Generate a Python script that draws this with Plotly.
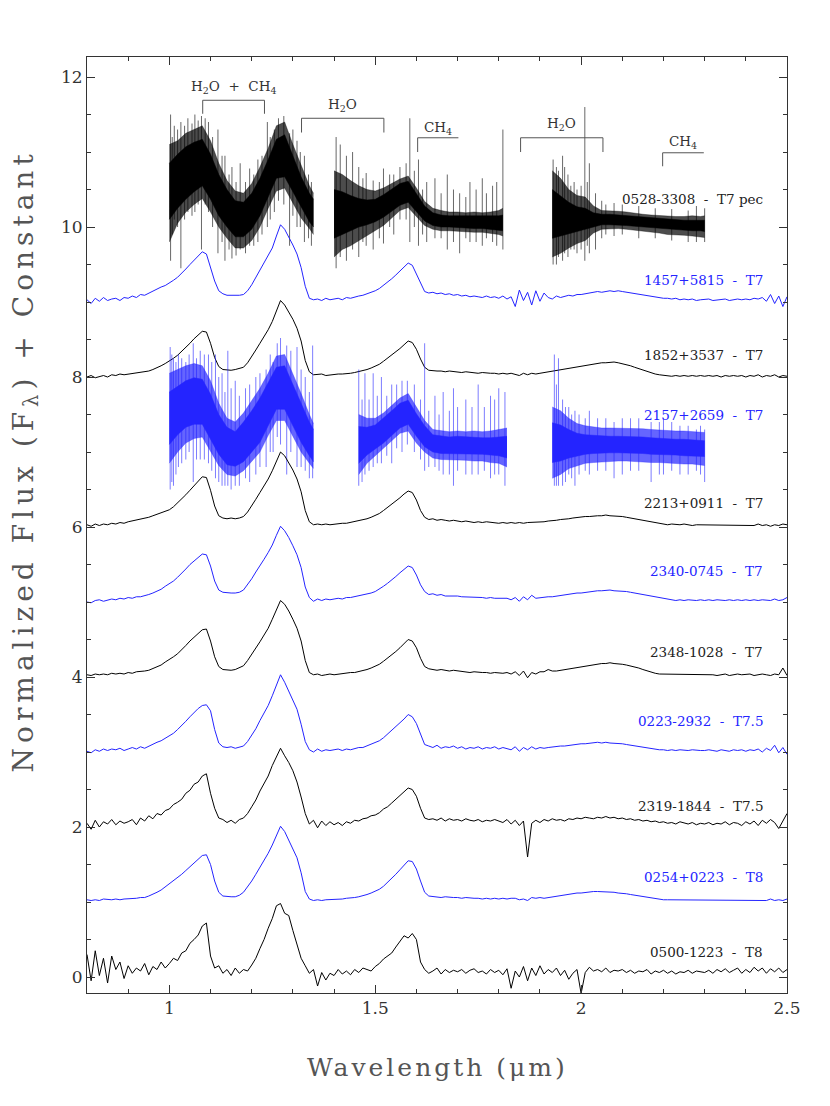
import plotly.graph_objects as go

# ---------------- data ----------------
WAVE = [0.80,0.81,0.82,0.83,0.84,0.85,0.86,0.87,0.88,0.89,
        0.90,0.91,0.92,0.93,0.94,0.95,0.96,0.97,0.98,0.99,
        1.00,1.01,1.02,1.03,1.04,1.05,1.06,1.07,1.08,1.09,
        1.10,1.11,1.12,1.13,1.14,1.15,1.16,1.17,1.18,1.19,
        1.20,1.21,1.22,1.23,1.24,1.25,1.26,1.27,1.28,1.29,
        1.30,1.31,1.32,1.33,1.34,1.35,1.36,1.37,1.38,1.39,
        1.40,1.41,1.42,1.43,1.44,1.45,1.46,1.47,1.48,1.49,
        1.50,1.51,1.52,1.53,1.54,1.55,1.56,1.57,1.58,1.59,
        1.60,1.61,1.62,1.63,1.64,1.65,1.66,1.67,1.68,1.69,
        1.70,1.71,1.72,1.73,1.74,1.75,1.76,1.77,1.78,1.79,
        1.80,1.81,1.82,1.83,1.84,1.85,1.86,1.87,1.88,1.89,
        1.90,1.91,1.92,1.93,1.94,1.95,1.96,1.97,1.98,1.99,
        2.00,2.01,2.02,2.03,2.04,2.05,2.06,2.07,2.08,2.09,
        2.10,2.11,2.12,2.13,2.14,2.15,2.16,2.17,2.18,2.19,
        2.20,2.21,2.22,2.23,2.24,2.25,2.26,2.27,2.28,2.29,
        2.30,2.31,2.32,2.33,2.34,2.35,2.36,2.37,2.38,2.39,
        2.40,2.41,2.42,2.43,2.44,2.45,2.46,2.47,2.48,2.49,
        2.50]

FLUX_1457 = [0.03,-0.02,0.05,0.01,0.06,0.02,0.04,0.05,0.02,0.06,
             0.05,0.08,0.06,0.10,0.09,0.12,0.14,0.17,0.20,0.22,
             0.25,0.29,0.33,0.38,0.44,0.50,0.56,0.61,0.67,0.64,
             0.47,0.28,0.15,0.11,0.09,0.09,0.08,0.09,0.10,0.15,
             0.23,0.33,0.42,0.51,0.61,0.72,0.88,1.03,0.97,0.87,
             0.76,0.64,0.46,0.21,0.05,0.03,0.04,0.02,0.05,0.03,
             0.04,0.05,0.03,0.06,0.05,0.07,0.08,0.09,0.11,0.12,
             0.15,0.18,0.22,0.27,0.31,0.36,0.41,0.47,0.52,0.49,
             0.38,0.25,0.14,0.12,0.13,0.11,0.12,0.10,0.11,0.09,
             0.10,0.08,0.09,0.07,0.08,0.07,0.06,0.08,0.06,0.07,
             0.05,0.08,0.04,0.07,-0.06,0.16,0.02,0.13,-0.04,0.15,
             0.01,0.12,0.06,0.04,0.08,0.06,0.07,0.09,0.08,0.10,
             0.10,0.11,0.12,0.13,0.14,0.13,0.14,0.15,0.14,0.15,
             0.14,0.13,0.13,0.12,0.11,0.10,0.09,0.08,0.07,0.06,
             0.05,0.05,0.04,0.05,0.03,0.04,0.03,0.04,0.02,0.03,
             0.03,0.04,0.02,0.03,0.03,0.04,0.02,0.03,0.04,0.03,
             0.04,0.03,0.05,0.04,0.06,0.01,0.10,-0.02,0.08,-0.06,
             0.07]

FLUX_1852 = [0.00,0.02,-0.01,0.01,0.02,0.00,0.03,0.02,0.04,0.03,
             0.04,0.05,0.05,0.06,0.07,0.08,0.10,0.12,0.15,0.18,
             0.21,0.25,0.29,0.34,0.39,0.45,0.51,0.56,0.61,0.60,
             0.45,0.26,0.14,0.10,0.09,0.09,0.10,0.11,0.13,0.19,
             0.27,0.36,0.45,0.54,0.63,0.74,0.88,1.02,0.96,0.87,
             0.77,0.65,0.48,0.22,0.07,0.03,0.03,0.04,0.02,0.03,
             0.03,0.04,0.04,0.05,0.05,0.06,0.07,0.08,0.10,0.12,
             0.14,0.17,0.21,0.25,0.29,0.33,0.38,0.43,0.48,0.46,
             0.37,0.24,0.13,0.09,0.08,0.08,0.08,0.07,0.08,0.07,
             0.07,0.06,0.07,0.06,0.06,0.05,0.06,0.05,0.05,0.05,
             0.04,0.05,0.04,0.05,0.04,0.02,0.05,0.03,0.05,0.04,
             0.05,0.06,0.06,0.07,0.08,0.09,0.10,0.11,0.12,0.13,
             0.14,0.15,0.16,0.17,0.18,0.19,0.19,0.20,0.20,0.19,
             0.18,0.17,0.15,0.13,0.11,0.09,0.07,0.05,0.04,0.03,
             0.02,0.02,0.01,0.02,0.01,0.02,0.01,0.02,0.01,0.02,
             0.01,0.02,0.01,0.02,0.00,0.02,0.01,0.02,0.01,0.02,
             0.00,0.02,0.01,0.03,0.00,0.02,0.01,0.03,0.00,0.02,
             0.01]

FLUX_2213 = [0.03,0.01,0.04,0.02,0.04,0.03,0.05,0.04,0.06,0.05,
             0.07,0.08,0.09,0.10,0.11,0.13,0.15,0.17,0.19,0.21,
             0.23,0.27,0.32,0.37,0.43,0.49,0.55,0.60,0.67,0.66,
             0.49,0.28,0.15,0.12,0.11,0.12,0.11,0.12,0.14,0.20,
             0.28,0.37,0.46,0.55,0.64,0.75,0.88,1.00,0.95,0.86,
             0.76,0.64,0.47,0.22,0.07,0.03,0.04,0.03,0.04,0.03,
             0.04,0.04,0.05,0.05,0.06,0.07,0.08,0.09,0.11,0.13,
             0.15,0.18,0.22,0.26,0.30,0.34,0.39,0.44,0.48,0.46,
             0.36,0.22,0.13,0.10,0.11,0.09,0.10,0.09,0.08,0.09,
             0.08,0.07,0.08,0.07,0.06,0.07,0.06,0.07,0.06,0.06,
             0.05,0.06,0.05,0.06,0.05,0.06,0.05,0.06,0.06,0.06,
             0.07,0.07,0.08,0.08,0.09,0.10,0.10,0.11,0.12,0.13,
             0.13,0.14,0.14,0.15,0.15,0.15,0.16,0.15,0.15,0.14,
             0.14,0.13,0.12,0.11,0.10,0.09,0.07,0.06,0.05,0.04,
             0.04,0.03,0.04,0.03,0.03,0.04,0.03,0.02,0.03,0.03,
             0.03,0.02,0.03,0.03,0.02,0.03,0.02,0.03,0.02,0.03,
             0.02,0.03,0.02,0.04,0.02,0.03,0.01,0.03,0.02,0.04,
             0.03]

FLUX_2340 = [0.00,-0.01,0.02,0.03,0.01,0.03,0.04,0.03,0.05,0.04,
             0.06,0.05,0.07,0.07,0.08,0.10,0.12,0.14,0.17,0.21,
             0.24,0.28,0.33,0.38,0.44,0.50,0.55,0.59,0.64,0.63,
             0.48,0.28,0.16,0.13,0.12,0.12,0.12,0.13,0.16,0.23,
             0.31,0.40,0.48,0.57,0.66,0.76,0.89,1.01,0.95,0.86,
             0.75,0.63,0.46,0.20,0.06,0.01,0.04,0.02,0.04,0.03,
             0.04,0.05,0.04,0.06,0.06,0.07,0.08,0.09,0.10,0.12,
             0.14,0.17,0.21,0.25,0.29,0.34,0.39,0.44,0.48,0.46,
             0.36,0.23,0.14,0.10,0.11,0.09,0.10,0.08,0.08,0.09,
             0.08,0.07,0.07,0.06,0.07,0.06,0.06,0.05,0.06,0.05,
             0.05,0.04,0.05,0.03,0.06,0.01,0.07,0.03,0.09,0.05,
             0.06,0.06,0.07,0.07,0.08,0.08,0.09,0.10,0.11,0.12,
             0.12,0.13,0.14,0.14,0.15,0.15,0.16,0.16,0.15,0.15,
             0.14,0.14,0.13,0.12,0.11,0.10,0.09,0.07,0.06,0.05,
             0.04,0.03,0.03,0.02,0.03,0.02,0.03,0.02,0.02,0.03,
             0.02,0.03,0.02,0.03,0.02,0.02,0.03,0.02,0.03,0.02,
             0.03,0.02,0.03,0.02,0.03,0.03,0.02,0.04,0.02,0.03,
             0.06]

FLUX_2348 = [0.03,0.02,0.04,0.03,0.04,0.03,0.05,0.04,0.05,0.04,
             0.06,0.05,0.07,0.07,0.08,0.09,0.11,0.13,0.16,0.20,
             0.23,0.27,0.31,0.36,0.42,0.48,0.53,0.58,0.63,0.64,
             0.48,0.27,0.14,0.10,0.09,0.09,0.10,0.12,0.15,0.22,
             0.30,0.39,0.47,0.56,0.65,0.77,0.90,1.02,0.97,0.88,
             0.77,0.65,0.48,0.22,0.06,0.03,0.04,0.02,0.03,0.04,
             0.03,0.04,0.04,0.05,0.06,0.06,0.07,0.08,0.10,0.12,
             0.14,0.17,0.21,0.25,0.29,0.34,0.39,0.45,0.50,0.48,
             0.39,0.25,0.14,0.11,0.10,0.09,0.10,0.09,0.08,0.09,
             0.08,0.07,0.07,0.06,0.07,0.06,0.06,0.06,0.05,0.06,
             0.05,0.05,0.06,0.04,0.07,0.02,0.08,-0.01,0.06,0.04,
             0.07,0.07,0.10,0.08,0.08,0.09,0.10,0.11,0.12,0.13,
             0.14,0.15,0.16,0.17,0.17,0.18,0.18,0.19,0.18,0.18,
             0.17,0.16,0.15,0.13,0.12,0.10,0.08,0.07,0.05,0.04,
             0.04,0.03,0.04,0.03,0.03,0.04,0.03,0.03,0.04,0.03,
             0.03,0.04,0.03,0.02,0.03,0.04,0.02,0.03,0.04,0.03,
             0.03,0.04,0.02,0.03,0.04,0.03,0.02,0.04,0.03,0.12,
             0.02]

FLUX_0223 = [0.01,-0.01,0.03,0.01,0.04,0.02,0.04,0.03,0.05,0.02,
             0.04,0.06,0.04,0.07,0.05,0.08,0.11,0.13,0.15,0.18,
             0.21,0.25,0.30,0.35,0.41,0.47,0.53,0.58,0.62,0.63,
             0.55,0.30,0.12,0.07,0.06,0.07,0.05,0.06,0.08,0.14,
             0.22,0.31,0.42,0.52,0.62,0.75,0.89,1.03,0.93,0.81,
             0.69,0.57,0.37,0.14,0.03,0.00,0.04,0.01,0.03,0.02,
             0.03,0.04,0.02,0.04,0.03,0.05,0.06,0.06,0.08,0.10,
             0.12,0.15,0.19,0.24,0.28,0.33,0.38,0.44,0.50,0.47,
             0.38,0.24,0.10,0.08,0.06,0.09,0.05,0.07,0.06,0.08,
             0.05,0.07,0.04,0.06,0.05,0.07,0.04,0.06,0.05,0.07,
             0.04,0.06,0.05,0.03,0.07,0.01,0.06,0.03,0.07,0.04,
             0.06,0.05,0.06,0.07,0.07,0.08,0.08,0.09,0.10,0.10,
             0.11,0.11,0.12,0.12,0.13,0.12,0.13,0.12,0.12,0.11,
             0.11,0.10,0.09,0.08,0.07,0.06,0.05,0.05,0.04,0.03,
             0.03,0.02,0.03,0.02,0.03,0.02,0.02,0.03,0.02,0.02,
             0.02,0.03,0.02,0.01,0.03,0.02,0.01,0.03,0.02,0.03,
             0.01,0.03,0.02,0.04,0.00,0.05,0.02,0.09,-0.01,0.06,
             -0.03]

FLUX_2319 = [0.05,-0.03,0.09,0.00,0.07,0.04,0.10,0.03,0.08,0.05,
             0.07,0.10,0.03,0.12,0.08,0.15,0.11,0.18,0.16,0.22,
             0.24,0.30,0.33,0.37,0.45,0.49,0.57,0.60,0.68,0.71,
             0.45,0.25,0.12,0.10,0.06,0.09,0.05,0.10,0.12,0.18,
             0.27,0.36,0.48,0.58,0.68,0.82,0.93,1.05,0.95,0.86,
             0.75,0.60,0.40,0.18,0.04,0.09,-0.01,0.08,0.02,0.07,
             0.03,0.06,0.02,0.07,0.05,0.09,0.08,0.11,0.12,0.15,
             0.16,0.19,0.24,0.27,0.32,0.37,0.41,0.47,0.52,0.50,
             0.41,0.25,0.12,0.10,0.11,0.09,0.12,0.08,0.11,0.09,
             0.10,0.08,0.11,0.09,0.08,0.10,0.07,0.09,0.08,0.10,
             0.08,0.06,0.10,0.04,0.09,0.02,0.08,-0.40,0.05,0.09,
             0.06,0.10,0.08,0.11,0.09,0.10,0.08,0.11,0.10,0.12,
             0.11,0.13,0.12,0.11,0.13,0.12,0.14,0.12,0.13,0.11,
             0.12,0.10,0.11,0.09,0.10,0.08,0.09,0.07,0.08,0.06,
             0.07,0.05,0.06,0.04,0.07,0.05,0.04,0.06,0.03,0.05,
             0.04,0.06,0.03,0.05,0.04,0.07,0.03,0.06,0.05,0.02,
             0.07,0.04,0.08,0.02,0.09,0.05,0.10,0.06,-0.02,0.08,
             0.18]

FLUX_0254 = [0.03,0.02,0.03,0.02,0.04,0.03,0.03,0.04,0.03,0.04,
             0.04,0.05,0.05,0.06,0.06,0.08,0.10,0.13,0.16,0.20,
             0.24,0.28,0.32,0.37,0.42,0.47,0.52,0.56,0.62,0.63,
             0.50,0.28,0.13,0.08,0.07,0.07,0.07,0.09,0.13,0.20,
             0.28,0.37,0.46,0.55,0.65,0.76,0.89,1.01,0.94,0.83,
             0.72,0.59,0.39,0.14,0.04,0.02,0.03,0.02,0.03,0.03,
             0.03,0.04,0.04,0.05,0.05,0.06,0.07,0.08,0.10,0.12,
             0.14,0.17,0.21,0.26,0.31,0.37,0.43,0.49,0.55,0.54,
             0.44,0.28,0.13,0.08,0.07,0.07,0.06,0.07,0.06,0.06,
             0.06,0.05,0.06,0.05,0.05,0.05,0.04,0.05,0.04,0.05,
             0.04,0.05,0.04,0.05,0.05,0.03,0.04,0.02,0.06,0.05,
             0.06,0.05,0.06,0.07,0.07,0.08,0.09,0.10,0.11,0.12,
             0.12,0.13,0.13,0.14,0.14,0.14,0.14,0.13,0.13,0.12,
             0.12,0.11,0.10,0.09,0.08,0.07,0.06,0.05,0.04,0.03,
             0.03,0.03,0.03,0.02,0.03,0.03,0.02,0.03,0.03,0.03,
             0.03,0.02,0.03,0.03,0.02,0.03,0.03,0.02,0.03,0.03,
             0.02,0.03,0.03,0.02,0.03,0.02,0.04,0.02,0.03,0.02,
             0.04]

FLUX_0500 = [0.30,-0.05,0.35,0.02,0.25,-0.08,0.28,0.10,0.20,-0.02,
             0.15,0.05,0.12,0.08,0.18,0.03,0.14,0.10,0.20,0.12,
             0.18,0.25,0.22,0.32,0.35,0.45,0.50,0.56,0.68,0.72,
             0.28,0.12,0.15,0.05,0.10,0.02,0.12,0.05,0.10,0.08,
             0.16,0.25,0.38,0.50,0.65,0.78,0.95,0.98,0.85,0.82,
             0.62,0.45,0.25,0.15,0.05,0.10,-0.12,0.06,-0.04,0.05,
             0.02,0.10,0.04,0.08,0.03,0.10,0.06,0.12,0.10,0.08,
             0.14,0.18,0.24,0.28,0.32,0.40,0.48,0.55,0.52,0.58,
             0.50,0.20,0.10,0.05,0.08,0.12,0.04,0.10,0.06,0.09,
             0.07,0.10,0.05,0.09,0.11,0.06,0.08,0.04,0.10,0.06,
             0.09,0.03,0.11,-0.15,0.08,0.00,0.14,-0.05,0.12,0.02,
             0.15,0.04,0.10,0.06,0.12,0.02,0.09,-0.03,0.05,0.10,
             -0.22,0.06,0.13,0.08,0.10,0.07,0.12,0.06,0.09,0.08,
             0.10,0.06,0.09,0.05,0.08,0.07,0.10,0.04,0.08,0.06,
             0.09,0.05,0.08,0.04,0.07,0.06,0.09,0.05,0.08,0.07,
             0.06,0.09,0.05,0.10,0.07,0.11,0.06,0.09,0.12,0.05,
             0.10,0.06,0.13,0.08,0.12,0.05,0.11,0.07,0.12,0.06,
             0.10]

# Noisy spectra: outer envelope and dense core of the noise band, per segment
W_0528_S1 = [1.00,1.02,1.04,1.06,1.08,1.10,1.12,1.14,1.16,1.18,1.20,1.22,1.24,1.26,1.28,1.30,1.32,1.34,1.35]
LO_0528_S1 = [-0.20,0.05,0.20,0.30,0.38,0.20,0.00,-0.15,-0.28,-0.28,-0.18,0.00,0.25,0.48,0.52,0.32,0.12,-0.02,-0.10]
HI_0528_S1 = [1.10,1.15,1.25,1.30,1.35,1.15,0.85,0.62,0.48,0.45,0.58,0.80,1.05,1.35,1.40,1.10,0.82,0.55,0.45]
CLO_0528_S1 = [0.10,0.25,0.37,0.47,0.55,0.37,0.15,0.00,-0.13,-0.13,-0.03,0.15,0.40,0.65,0.67,0.47,0.25,0.07,0.00]
CHI_0528_S1 = [0.85,0.97,1.07,1.13,1.17,0.97,0.70,0.50,0.35,0.33,0.45,0.65,0.90,1.17,1.23,0.95,0.67,0.45,0.37]
W_0528_S2 = [1.40,1.42,1.44,1.46,1.48,1.50,1.52,1.54,1.56,1.58,1.60,1.62,1.64,1.66,1.68,1.70,1.72,1.74,1.76,1.78,1.80,1.81]
LO_0528_S2 = [-0.40,-0.30,-0.25,-0.18,-0.12,-0.05,0.02,0.12,0.22,0.26,0.14,0.02,-0.03,-0.05,-0.05,-0.06,-0.06,-0.07,-0.07,-0.08,-0.10,-0.12]
HI_0528_S2 = [0.75,0.70,0.62,0.55,0.50,0.48,0.52,0.58,0.64,0.68,0.52,0.34,0.25,0.22,0.20,0.20,0.19,0.20,0.19,0.20,0.22,0.25]
CLO_0528_S2 = [-0.15,-0.10,-0.05,0.00,0.03,0.07,0.13,0.21,0.29,0.33,0.21,0.08,0.02,0.00,0.00,-0.01,-0.01,-0.02,-0.02,-0.03,-0.04,-0.05]
CHI_0528_S2 = [0.50,0.47,0.42,0.38,0.36,0.37,0.43,0.50,0.58,0.61,0.45,0.28,0.19,0.16,0.15,0.15,0.14,0.14,0.14,0.14,0.15,0.16]
W_0528_S3 = [1.93,1.95,1.97,1.99,2.01,2.03,2.05,2.07,2.09,2.11,2.13,2.15,2.17,2.19,2.21,2.23,2.25,2.27,2.29,2.30]
LO_0528_S3 = [-0.40,-0.35,-0.28,-0.22,-0.18,-0.08,-0.03,-0.02,-0.02,-0.03,-0.04,-0.06,-0.07,-0.08,-0.10,-0.10,-0.11,-0.12,-0.13,-0.14]
HI_0528_S3 = [0.75,0.65,0.50,0.42,0.40,0.28,0.22,0.22,0.21,0.20,0.18,0.17,0.16,0.15,0.15,0.14,0.14,0.15,0.14,0.15]
CLO_0528_S3 = [-0.15,-0.12,-0.09,-0.05,-0.03,0.01,0.03,0.03,0.03,0.02,0.01,0.00,-0.01,-0.02,-0.03,-0.04,-0.04,-0.05,-0.05,-0.06]
CHI_0528_S3 = [0.50,0.42,0.33,0.27,0.25,0.19,0.17,0.17,0.16,0.15,0.14,0.13,0.12,0.11,0.10,0.10,0.09,0.09,0.09,0.09]

SPK_0528_W = [1.003,1.007,1.012,1.020,1.028,1.037,1.045,1.055,1.062,1.070,1.078,1.087,1.095,1.105,1.118,1.128,1.135,1.145,1.152,1.162,
              1.172,1.185,1.195,1.205,1.215,1.225,1.238,1.245,1.255,1.265,1.278,1.292,1.300,1.310,1.318,1.328,1.338,1.345,
              1.405,1.415,1.430,1.445,1.460,1.470,1.478,1.495,1.510,1.520,1.535,1.545,1.560,1.575,1.584,1.595,1.605,1.615,
              1.625,1.645,1.660,1.675,1.690,1.705,1.720,1.730,1.745,1.760,1.770,1.785,1.795,1.810,
              1.932,1.940,1.945,1.955,1.960,1.968,1.975,1.983,1.990,2.000,2.009,2.015,2.020,2.035,2.050,2.060,2.080,2.100,
              2.140,2.180,2.220,2.260,2.280,2.300]
SPK_0528_LO = [-0.45,-0.10,0.10,0.00,-0.55,0.10,0.20,0.15,0.20,0.30,-0.30,0.30,0.20,0.00,-0.35,-0.20,-0.45,-0.30,-0.42,-0.38,
               -0.30,-0.35,-0.25,-0.25,-0.20,-0.10,0.00,0.10,0.20,0.35,0.30,-0.25,0.15,0.00,0.00,-0.20,-0.15,-0.25,
               -0.55,-0.40,-0.45,-0.30,-0.40,-0.20,-0.25,-0.30,-0.15,-0.22,0.00,-0.10,0.10,0.10,-0.20,0.00,-0.25,-0.10,
               -0.20,-0.15,-0.15,-0.30,-0.20,-0.35,-0.15,-0.20,-0.20,-0.25,-0.15,-0.20,-0.25,-0.30,
               -0.50,-0.50,-0.40,-0.45,-0.35,-0.40,-0.30,-0.30,-0.35,-0.30,-0.45,-0.25,-0.35,-0.30,-0.15,-0.10,-0.12,-0.10,
               -0.15,-0.15,-0.18,-0.20,-0.20,-0.20]
SPK_0528_HI = [1.50,1.20,1.35,1.30,1.40,1.35,1.45,1.38,1.50,1.42,1.48,1.45,1.40,1.20,1.30,0.95,0.95,0.70,0.80,0.60,
               0.85,0.60,0.78,0.70,0.90,0.95,1.40,1.20,1.30,1.45,1.48,1.25,1.30,1.15,1.00,0.95,0.70,0.60,
               1.20,1.10,0.95,1.00,0.80,0.65,0.72,0.62,0.60,0.78,0.70,0.70,0.80,0.85,1.45,0.75,0.90,0.50,
               0.60,0.65,0.45,0.70,0.50,0.45,0.40,0.60,0.50,0.65,0.45,0.55,0.60,1.30,
               0.90,0.80,0.75,0.95,0.80,0.70,0.55,0.60,0.50,0.55,1.60,0.60,0.85,0.45,0.35,0.30,0.32,0.30,
               0.28,0.25,0.24,0.22,0.28,0.25]

W_2157_S1 = [1.00,1.02,1.04,1.06,1.08,1.10,1.12,1.14,1.16,1.18,1.20,1.22,1.24,1.26,1.28,1.30,1.32,1.34,1.35]
LO_2157_S1 = [-0.15,0.00,0.12,0.18,0.20,0.00,-0.18,-0.30,-0.32,-0.25,-0.12,0.00,0.22,0.42,0.42,0.20,0.00,-0.15,-0.22]
HI_2157_S1 = [1.05,1.10,1.15,1.18,1.15,0.95,0.65,0.45,0.40,0.52,0.68,0.85,1.05,1.28,1.30,1.05,0.78,0.50,0.38]
CLO_2157_S1 = [0.10,0.23,0.33,0.37,0.37,0.17,-0.03,-0.17,-0.19,-0.13,0.00,0.13,0.35,0.57,0.57,0.35,0.13,-0.05,-0.13]
CHI_2157_S1 = [0.80,0.87,0.95,0.99,0.97,0.77,0.50,0.33,0.27,0.40,0.55,0.72,0.92,1.13,1.15,0.90,0.63,0.40,0.30]
W_2157_S2 = [1.46,1.48,1.50,1.52,1.54,1.56,1.58,1.60,1.62,1.64,1.66,1.68,1.70,1.72,1.74,1.76,1.78,1.80,1.82]
LO_2157_S2 = [-0.30,-0.15,-0.05,0.05,0.15,0.25,0.28,0.12,0.00,-0.08,-0.10,-0.10,-0.10,-0.11,-0.12,-0.12,-0.14,-0.15,-0.20]
HI_2157_S2 = [0.50,0.45,0.45,0.52,0.62,0.72,0.78,0.60,0.42,0.30,0.28,0.27,0.28,0.27,0.28,0.27,0.28,0.30,0.32]
CLO_2157_S2 = [-0.15,-0.04,0.04,0.12,0.22,0.32,0.37,0.21,0.07,0.00,-0.02,-0.02,-0.02,-0.03,-0.03,-0.03,-0.04,-0.05,-0.08]
CHI_2157_S2 = [0.34,0.33,0.36,0.45,0.55,0.65,0.69,0.51,0.35,0.23,0.21,0.20,0.21,0.20,0.20,0.19,0.19,0.20,0.21]
W_2157_S3 = [1.93,1.95,1.97,1.99,2.01,2.03,2.05,2.07,2.09,2.11,2.13,2.15,2.17,2.19,2.21,2.23,2.25,2.27,2.29,2.30]
LO_2157_S3 = [-0.35,-0.30,-0.22,-0.18,-0.15,-0.14,-0.13,-0.13,-0.12,-0.12,-0.13,-0.13,-0.14,-0.14,-0.15,-0.15,-0.16,-0.16,-0.17,-0.18]
HI_2157_S3 = [0.60,0.55,0.45,0.38,0.35,0.33,0.32,0.32,0.32,0.32,0.31,0.31,0.30,0.29,0.29,0.28,0.28,0.27,0.27,0.26]
CLO_2157_S3 = [-0.14,-0.12,-0.08,-0.05,-0.03,-0.02,-0.01,-0.01,-0.01,-0.01,-0.02,-0.02,-0.03,-0.03,-0.04,-0.04,-0.05,-0.05,-0.06,-0.06]
CHI_2157_S3 = [0.39,0.36,0.30,0.25,0.23,0.22,0.21,0.21,0.21,0.21,0.20,0.20,0.19,0.18,0.18,0.17,0.17,0.16,0.16,0.15]

SPK_2157_W = [1.002,1.006,1.010,1.016,1.022,1.030,1.040,1.048,1.058,1.066,1.075,1.085,1.095,1.103,1.112,1.120,1.128,1.135,1.142,1.150,
              1.160,1.170,1.185,1.195,1.210,1.220,1.235,1.245,1.252,1.262,1.270,1.285,1.295,1.310,1.320,1.330,1.340,1.348,
              1.460,1.468,1.475,1.485,1.495,1.505,1.515,1.528,1.540,1.552,1.565,1.578,1.595,1.610,1.620,1.630,1.645,1.655,
              1.665,1.680,1.690,1.700,1.720,1.735,1.750,1.765,1.780,1.790,1.800,1.815,
              1.935,1.940,1.945,1.955,1.962,1.970,1.977,1.985,1.995,2.010,2.020,2.040,2.060,2.080,2.100,2.120,2.140,2.170,
              2.190,2.200,2.220,2.240,2.260,2.280,2.290,2.300]
SPK_2157_LO = [-0.50,-0.40,-0.45,-0.30,-0.20,-0.15,-0.10,0.00,-0.40,-0.10,-0.10,-0.10,-0.15,-0.25,-0.35,-0.40,-0.45,-0.45,-0.45,-0.50,
               -0.45,-0.45,-0.35,-0.40,-0.30,-0.20,-0.20,0.00,0.00,0.20,0.10,-0.30,0.00,-0.20,-0.20,-0.25,-0.35,-0.35,
               -0.45,-0.40,-0.30,-0.25,-0.20,-0.15,-0.15,-0.05,-0.15,0.05,0.00,0.10,0.00,-0.10,-0.25,-0.20,-0.20,-0.25,
               -0.30,-0.30,-0.45,-0.25,-0.30,-0.30,-0.30,-0.25,-0.35,-0.30,-0.30,-0.45,
               -0.45,-0.45,-0.45,-0.45,-0.40,-0.30,-0.35,-0.45,-0.30,-0.25,-0.30,-0.25,-0.25,-0.35,-0.30,-0.25,-0.25,-0.40,
               -0.30,-0.30,-0.25,-0.30,-0.30,-0.25,-0.30,-0.40]
SPK_2157_HI = [1.40,1.30,1.25,1.20,1.30,1.25,1.20,1.30,1.45,1.25,1.35,1.30,1.30,1.20,1.30,1.00,1.05,0.80,1.35,0.85,
               0.95,0.75,0.85,0.90,1.00,1.05,1.10,1.30,1.20,1.45,1.52,1.42,1.35,1.40,1.10,1.00,0.80,1.42,
               1.10,0.70,1.05,0.70,1.05,0.75,1.00,0.75,0.90,0.90,0.95,0.95,0.90,0.70,1.45,0.55,0.75,0.50,
               0.80,0.55,0.85,0.60,0.70,0.60,0.90,0.60,0.75,0.70,0.85,0.80,
               1.30,0.90,1.25,0.70,0.60,0.60,0.50,0.55,0.50,0.45,0.55,0.45,0.45,0.40,0.45,0.45,0.45,0.40,
               0.40,0.45,0.40,0.35,0.35,0.30,0.35,0.30]

# Offsets (the "+ Constant"), top to bottom
OFFSET_0528, OFFSET_1457, OFFSET_1852, OFFSET_2157 = 10, 9, 8, 7
OFFSET_2213, OFFSET_2340, OFFSET_2348, OFFSET_0223 = 6, 5, 4, 3
OFFSET_2319, OFFSET_0254, OFFSET_0500 = 2, 1, 0

LABEL_TEXT = ["0528-3308 - T7 pec", "1457+5815 - T7", "1852+3537 - T7", "2157+2659 - T7",
              "2213+0911 - T7", "2340-0745 - T7", "2348-1028 - T7", "0223-2932 - T7.5",
              "2319-1844 - T7.5", "0254+0223 - T8", "0500-1223 - T8"]
LABEL_Y = [10.37, 9.29, 8.29, 7.50, 6.32, 5.41, 4.33, 3.41, 2.28, 1.33, 0.33]
LABEL_X = 2.447

# Absorption-band brackets
BAND_TEXT = ["H<sub>2</sub>O + CH<sub>4</sub>", "H<sub>2</sub>O", "CH<sub>4</sub>", "H<sub>2</sub>O", "CH<sub>4</sub>"]
BAND_X0 = [1.081, 1.321, 1.603, 1.853, 2.198]
BAND_X1 = [1.231, 1.521, 1.702, 2.053, 2.298]
BAND_Y = [11.69, 11.45, 11.19, 11.19, 10.99]
BAND_TICK_Y = [11.51, 11.26, 11.00, 11.00, 10.81]
BAND_RIGHT_TICK = [True, True, False, True, False]
BAND_LABEL_Y = [11.87, 11.63, 11.32, 11.37, 11.13]

# ---------------- styling ----------------
BLACK = "#000000"
BLUE = "#2424ff"
BLACK_LIGHT = "rgba(0,0,0,0.70)"
BLUE_LIGHT = "rgba(36,36,255,0.70)"
FONT = "DejaVu Serif"

fig = go.Figure()


def band(w, lo, hi, off, color):
    fig.add_trace(go.Scatter(x=w, y=[v + off for v in lo], mode="lines",
                             line=dict(color=color, width=0.5), showlegend=False, hoverinfo="skip"))
    fig.add_trace(go.Scatter(x=w, y=[v + off for v in hi], mode="lines", fill="tonexty",
                             fillcolor=color, line=dict(color=color, width=0.5),
                             showlegend=False, hoverinfo="skip"))


def add_noisy(ws, los, his, clos, chis, spk_w, spk_lo, spk_hi, off, color, light):
    for w, lo, hi in zip(ws, los, his):
        band(w, lo, hi, off, light)
    sx, sy = [], []
    for w, lo, hi in zip(spk_w, spk_lo, spk_hi):
        sx += [w, w, None]
        sy += [lo + off, hi + off, None]
    fig.add_trace(go.Scatter(x=sx, y=sy, mode="lines", line=dict(color=color, width=0.6),
                             showlegend=False, hoverinfo="skip"))
    for w, lo, hi in zip(ws, clos, chis):
        band(w, lo, hi, off, color)


def add_smooth(flux, off, color):
    fig.add_trace(go.Scatter(x=WAVE, y=[v + off for v in flux], mode="lines",
                             line=dict(color=color, width=1), showlegend=False))


add_noisy([W_0528_S1, W_0528_S2, W_0528_S3], [LO_0528_S1, LO_0528_S2, LO_0528_S3],
          [HI_0528_S1, HI_0528_S2, HI_0528_S3], [CLO_0528_S1, CLO_0528_S2, CLO_0528_S3],
          [CHI_0528_S1, CHI_0528_S2, CHI_0528_S3], SPK_0528_W, SPK_0528_LO, SPK_0528_HI,
          OFFSET_0528, BLACK, BLACK_LIGHT)
add_smooth(FLUX_1457, OFFSET_1457, BLUE)
add_smooth(FLUX_1852, OFFSET_1852, BLACK)
add_noisy([W_2157_S1, W_2157_S2, W_2157_S3], [LO_2157_S1, LO_2157_S2, LO_2157_S3],
          [HI_2157_S1, HI_2157_S2, HI_2157_S3], [CLO_2157_S1, CLO_2157_S2, CLO_2157_S3],
          [CHI_2157_S1, CHI_2157_S2, CHI_2157_S3], SPK_2157_W, SPK_2157_LO, SPK_2157_HI,
          OFFSET_2157, BLUE, BLUE_LIGHT)
add_smooth(FLUX_2213, OFFSET_2213, BLACK)
add_smooth(FLUX_2340, OFFSET_2340, BLUE)
add_smooth(FLUX_2348, OFFSET_2348, BLACK)
add_smooth(FLUX_0223, OFFSET_0223, BLUE)
add_smooth(FLUX_2319, OFFSET_2319, BLACK)
add_smooth(FLUX_0254, OFFSET_0254, BLUE)
add_smooth(FLUX_0500, OFFSET_0500, BLACK)

# brackets
bx, by = [], []
for x0, x1, y, ty, rt in zip(BAND_X0, BAND_X1, BAND_Y, BAND_TICK_Y, BAND_RIGHT_TICK):
    bx += [x0, x0, x1]
    by += [ty, y, y]
    if rt:
        bx += [x1]
        by += [ty]
    bx += [None]
    by += [None]
fig.add_trace(go.Scatter(x=bx, y=by, mode="lines", line=dict(color="#555555", width=1),
                         showlegend=False, hoverinfo="skip"))

annotations = []
for t, x0, x1, ly in zip(BAND_TEXT, BAND_X0, BAND_X1, BAND_LABEL_Y):
    annotations.append(dict(x=(x0 + x1) / 2, y=ly, xref="x", yref="y",
                            text=t.replace(" + ", "\u00a0\u00a0+\u00a0\u00a0"), showarrow=False,
                            font=dict(family=FONT, size=13.5, color="#333333")))

label_colors = [BLACK, BLUE, BLACK, BLUE, BLACK, BLUE, BLACK, BLUE, BLACK, BLUE, BLACK]
for t, y, c in zip(LABEL_TEXT, LABEL_Y, label_colors):
    annotations.append(dict(x=LABEL_X, y=y, xref="x", yref="y",
                            text=t.replace(" - ", "\u00a0\u00a0-\u00a0\u00a0"),
                            showarrow=False, xanchor="right", yanchor="middle",
                            font=dict(family=FONT, size=13.5, color="#222222" if c == BLACK else c)))

annotations.append(dict(x=0.5, y=-0.080, xref="paper", yref="paper", showarrow=False,
                        text='<span style="letter-spacing:3px">Wavelength (\u03bcm)</span>',
                        xanchor="center", yanchor="middle",
                        font=dict(family=FONT, size=25, color="#555555")))
annotations.append(dict(x=-0.0886, y=0.569, xref="paper", yref="paper", showarrow=False,
                        text='<span style="letter-spacing:5px">Normalized Flux (F<sub>\u03bb</sub>) + Constant</span>',
                        textangle=-90, xanchor="center", yanchor="middle",
                        font=dict(family=FONT, size=28, color="#555555")))

axis_common = dict(showline=True, linecolor="#333333", linewidth=1, mirror="ticks",
                   ticks="inside", tickcolor="#333333", showgrid=False, zeroline=False,
                   tickfont=dict(family=FONT, size=17, color="#333333"))

# The page body adds an 8 px margin, so the figure is sized to fit the window.
fig.update_layout(
    width=822, height=1098,
    margin=dict(l=79, r=43, t=49, b=113),
    paper_bgcolor="white", plot_bgcolor="white",
    showlegend=False,
    annotations=annotations,
    xaxis=dict(range=[0.8, 2.5], tickvals=[1, 1.5, 2, 2.5], ticktext=["1", "1.5", "2", "2.5"],
               ticklen=8, minor=dict(ticks="inside", dtick=0.1, tick0=0.8, ticklen=4, tickcolor="#333333"),
               **axis_common),
    yaxis=dict(range=[-0.213, 12.267], tickvals=[0, 2, 4, 6, 8, 10, 12],
               ticklen=8, minor=dict(ticks="inside", dtick=0.5, tick0=0, ticklen=4, tickcolor="#333333"),
               **axis_common),
)

fig.write_html("out.html")
